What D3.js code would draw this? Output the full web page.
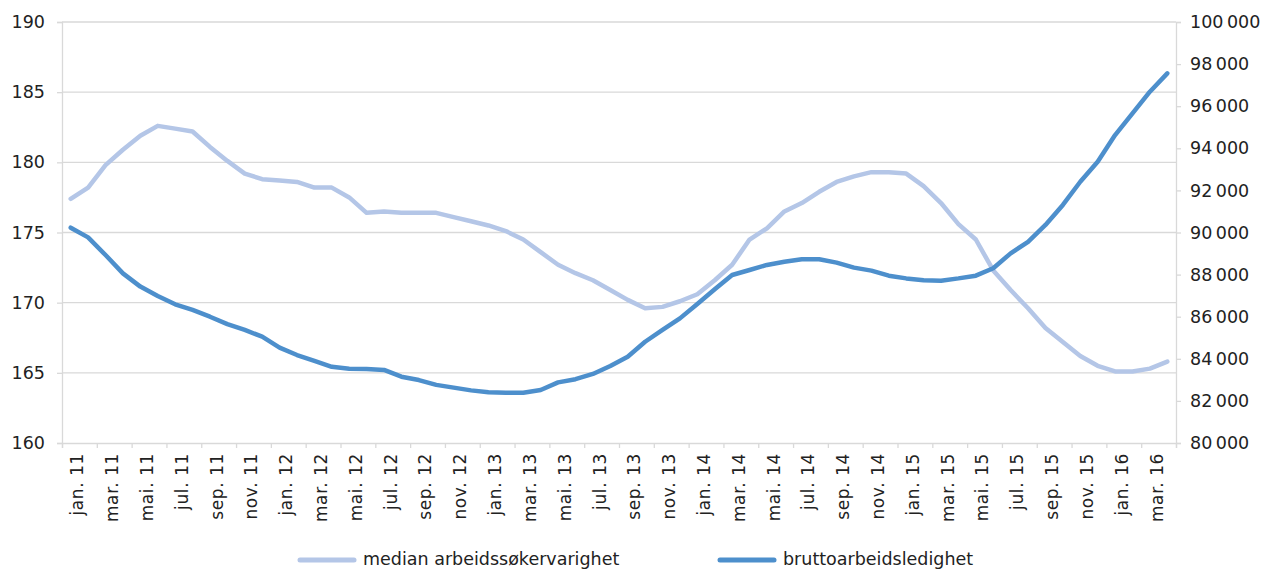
<!DOCTYPE html>
<html>
<head>
<meta charset="utf-8">
<script src="https://cdn.jsdelivr.net/npm/d3@7"></script>
<style>
  html, body { margin: 0; padding: 0; background: #fff; }
  svg { display: block; }
  text { font-family: "DejaVu Sans", sans-serif; fill: #222; }
</style>
</head>
<body>
<svg id="chart" width="1267" height="570"></svg>
<script>
// ---- data ----
const monthNames = ["jan.", "feb.", "mar.", "apr.", "mai.", "jun.", "jul.", "aug.", "sep.", "okt.", "nov.", "des."];
const years = ["11", "12", "13", "14", "15", "16"];
const categories = [];
years.forEach(y => monthNames.forEach(m => categories.push(m + " " + y)));
categories.length = 64; // jan. 11 – apr. 16

const seriesNames = ["median arbeidssøkervarighet", "bruttoarbeidsledighet"];

const medianDuration = [
  177.4, 178.2, 179.8, 180.9, 181.9, 182.6, 182.4, 182.2, 181.1, 180.1, 179.2, 178.8,
  178.7, 178.6, 178.2, 178.2, 177.5, 176.4, 176.5, 176.4, 176.4, 176.4, 176.1, 175.8,
  175.5, 175.1, 174.5, 173.6, 172.7, 172.1, 171.6, 170.9, 170.2, 169.6, 169.7, 170.1,
  170.6, 171.6, 172.7, 174.5, 175.3, 176.5, 177.1, 177.9, 178.6, 179.0, 179.3, 179.3,
  179.2, 178.3, 177.1, 175.6, 174.5, 172.3, 170.9, 169.6, 168.2, 167.2, 166.2, 165.5,
  165.1, 165.1, 165.3, 165.8
];

const grossUnemployment = [
  90230, 89770, 88930, 88060, 87430, 86980, 86590, 86320, 86000, 85650, 85370, 85050,
  84530, 84180, 83900, 83620, 83530, 83520, 83470, 83150, 82990, 82760, 82630, 82500,
  82410, 82390, 82390, 82520, 82880, 83030, 83280, 83660, 84100, 84810, 85370, 85920,
  86600, 87300, 87980, 88220, 88460, 88610, 88730, 88730, 88570, 88330, 88190, 87950,
  87820, 87730, 87710, 87820, 87950, 88300, 89010, 89560, 90360, 91310, 92410, 93360,
  94630, 95660, 96690, 97560
];

const leftTicks = [160, 165, 170, 175, 180, 185, 190];
const rightTicks = [80000, 82000, 84000, 86000, 88000, 90000, 92000, 94000, 96000, 98000, 100000];

(function draw() {
  const svg = d3.select("#chart");
  const mLeft = 62, mRight = 1176, mTop = 22, mBottom = 443;
  const lightColor = "#b4c6e7", darkColor = "#4d8fcc";
  const gridColor = "#d9d9d9";

  const xIdx = d3.scaleLinear().domain([0, categories.length]).range([mLeft, mRight]);
  const yL = d3.scaleLinear().domain([160, 190]).range([mBottom, mTop]);
  const yR = d3.scaleLinear().domain([80000, 100000]).range([mBottom, mTop]);

  const fmtR = d => d3.format(",")(d).replace(/,/g, "\u2009");

  // gridlines
  svg.append("g")
    .selectAll("line")
    .data(leftTicks.filter(d => d !== 160))
    .join("line")
    .attr("x1", mLeft).attr("x2", mRight)
    .attr("y1", d => yL(d)).attr("y2", d => yL(d))
    .attr("stroke", gridColor).attr("stroke-width", 1.3);

  // left axis
  const gL = svg.append("g").attr("transform", `translate(${mLeft},0)`)
    .call(d3.axisLeft(yL).tickValues(leftTicks).tickSize(5).tickPadding(12).tickFormat(d3.format("d")));
  gL.select(".domain").attr("stroke", gridColor).attr("stroke-width", 1.3);
  gL.selectAll(".tick line").attr("stroke", gridColor).attr("stroke-width", 1.3);
  gL.selectAll("text").style("font-size", "17.5px").style("font-family", "DejaVu Sans").attr("fill", "#222");

  // right axis
  const gR = svg.append("g").attr("transform", `translate(${mRight},0)`)
    .call(d3.axisRight(yR).tickValues(rightTicks).tickSize(5).tickPadding(9).tickFormat(fmtR));
  gR.select(".domain").attr("stroke", gridColor).attr("stroke-width", 1.3);
  gR.selectAll(".tick line").attr("stroke", gridColor).attr("stroke-width", 1.3);
  gR.selectAll("text").style("font-size", "17.5px").style("font-family", "DejaVu Sans").attr("fill", "#222");

  // bottom axis (ticks every 2 categories at boundaries)
  const tickIdx = d3.range(0, categories.length + 1, 2);
  const gB = svg.append("g").attr("transform", `translate(0,${mBottom})`)
    .call(d3.axisBottom(xIdx).tickValues(tickIdx).tickSize(5).tickFormat(""));
  gB.select(".domain").attr("stroke", gridColor).attr("stroke-width", 1.3);
  gB.selectAll(".tick line").attr("stroke", gridColor).attr("stroke-width", 1.3);

  // category labels (every second)
  svg.append("g")
    .selectAll("text")
    .data(categories.map((c, i) => ({ c, i })).filter(d => d.i % 2 === 0))
    .join("text")
    .attr("transform", d => `translate(${xIdx(d.i + 1) - 2},${mBottom + 10}) rotate(-90)`)
    .attr("text-anchor", "end")
    .attr("dy", "0.35em")
    .style("font-size", "17px")
    .style("letter-spacing", "0.6px")
    .text(d => d.c);

  // lines
  const lineL = d3.line().x((d, i) => xIdx(i + 0.5)).y(d => yL(d));
  const lineR = d3.line().x((d, i) => xIdx(i + 0.5)).y(d => yR(d));

  svg.append("path").datum(medianDuration)
    .attr("d", lineL).attr("fill", "none")
    .attr("stroke", lightColor).attr("stroke-width", 4.5)
    .attr("stroke-linejoin", "round").attr("stroke-linecap", "round");

  svg.append("path").datum(grossUnemployment)
    .attr("d", lineR).attr("fill", "none")
    .attr("stroke", darkColor).attr("stroke-width", 4.5)
    .attr("stroke-linejoin", "round").attr("stroke-linecap", "round");

  // legend
  const legendItems = [
    { name: seriesNames[0], color: lightColor, x: 300 },
    { name: seriesNames[1], color: darkColor, x: 720 }
  ];
  const lg = svg.append("g");
  legendItems.forEach(it => {
    lg.append("line")
      .attr("x1", it.x).attr("x2", it.x + 54)
      .attr("y1", 560).attr("y2", 560)
      .attr("stroke", it.color).attr("stroke-width", 5).attr("stroke-linecap", "round");
    lg.append("text")
      .attr("x", it.x + 63).attr("y", 565)
      .style("font-size", "17.5px")
      .text(it.name);
  });
})();
</script>
</body>
</html>
